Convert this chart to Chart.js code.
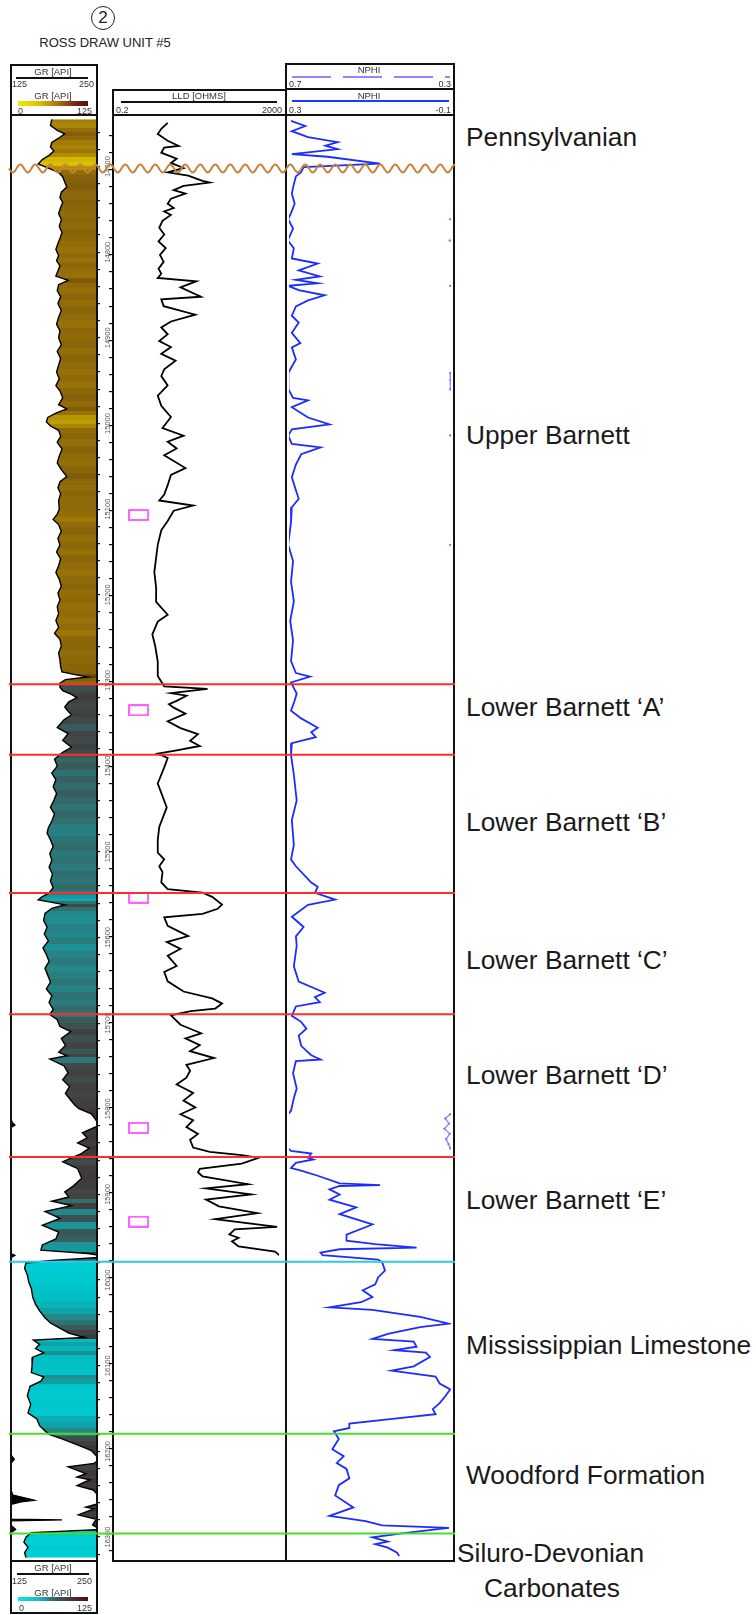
<!DOCTYPE html>
<html>
<head>
<meta charset="utf-8">
<script src="https://cdn.jsdelivr.net/npm/chart.js@4.4.0/dist/chart.umd.min.js"></script>
<style>
  body { margin: 0; background: #fff; }
  #page { position: relative; width: 756px; height: 1615px; overflow: hidden;
          font-family: "Liberation Sans", Arial, sans-serif; color: #222; }
  canvas { position: absolute; }
  .box { position: absolute; border: 2px solid #111; box-sizing: border-box; z-index: 5; }
  .rule { position: absolute; background: #111; z-index: 5; }
  .hd { position: absolute; font-size: 9px; line-height: 10px; color: #333; white-space: nowrap; z-index: 6; }
  .c { transform: translateX(-50%); }
  .r { transform: translateX(-100%); }
  .zone { position: absolute; left: 466px; font-size: 26.3px; color: #1a1a1a; white-space: nowrap;
          transform: translateY(-50%); z-index: 6; }
</style>
</head>
<body>
<div id="page">
  <!-- well title -->
  <div style="position:absolute;left:91px;top:6px;width:24px;height:24px;border:1.3px solid #222;border-radius:50%;box-sizing:border-box;font-size:17px;line-height:22px;text-align:center;">2</div>
  <div class="hd c" style="left:105px;top:36px;font-size:13px;line-height:14px;color:#222;">ROSS DRAW UNIT #5</div>

  <!-- track frames -->
  <div class="box" style="left:10px;top:64px;width:88px;height:1550px;"></div>
  <div class="rule" style="left:10px;top:114px;width:88px;height:2px;"></div>
  <div class="rule" style="left:10px;top:1560px;width:88px;height:2px;"></div>
  <div class="box" style="left:112px;top:89px;width:175px;height:1473px;"></div>
  <div class="rule" style="left:112px;top:114px;width:175px;height:2px;"></div>
  <div class="box" style="left:285px;top:63px;width:170px;height:1499px;"></div>
  <div class="rule" style="left:285px;top:88px;width:170px;height:2px;"></div>
  <div class="rule" style="left:285px;top:114px;width:170px;height:2px;"></div>

  <!-- GR header -->
  <div class="hd c" style="left:53px;top:67px;font-size:9.5px;">GR [API]</div>
  <div class="rule" style="left:16px;top:77px;width:72px;height:1.5px;"></div>
  <div class="hd" style="left:12px;top:79px;">125</div>
  <div class="hd r" style="left:94px;top:79px;">250</div>
  <div class="hd c" style="left:53px;top:91px;font-size:9.5px;">GR [API]</div>
  <div style="position:absolute;left:18px;top:101px;width:70px;height:5px;z-index:6;background:linear-gradient(90deg,#f4ea00 0%,#e0c000 30%,#b07a10 55%,#7a2a10 80%,#5a0a0a 100%);"></div>
  <div class="hd" style="left:18px;top:106px;">0</div>
  <div class="hd r" style="left:92px;top:106px;">125</div>

  <!-- LLD header -->
  <div class="hd c" style="left:199px;top:91px;font-size:9.5px;">LLD [OHMS]</div>
  <div class="rule" style="left:121px;top:101px;width:156px;height:1.5px;"></div>
  <div class="hd" style="left:116px;top:105px;">0.2</div>
  <div class="hd r" style="left:282px;top:105px;">2000</div>

  <!-- NPHI header -->
  <div class="hd c" style="left:369px;top:65px;font-size:9.5px;">NPHI</div>
  <div style="position:absolute;left:292px;top:76px;width:158px;height:1.5px;z-index:6;background:repeating-linear-gradient(90deg,#8a8aff 0 39px,transparent 39px 51px);"></div>
  <div class="hd" style="left:289px;top:79px;">0.7</div>
  <div class="hd r" style="left:451px;top:79px;">0.3</div>
  <div class="hd c" style="left:369px;top:91px;font-size:9.5px;">NPHI</div>
  <div style="position:absolute;left:292px;top:100px;width:157px;height:2px;z-index:6;background:#2238ff;"></div>
  <div class="hd" style="left:289px;top:105px;">0.3</div>
  <div class="hd r" style="left:451px;top:105px;">-0.1</div>

  <!-- GR footer -->
  <div class="hd c" style="left:53px;top:1563px;font-size:9.5px;">GR [API]</div>
  <div class="rule" style="left:17px;top:1573px;width:72px;height:1.5px;"></div>
  <div class="hd" style="left:12px;top:1576px;">125</div>
  <div class="hd r" style="left:92px;top:1576px;">250</div>
  <div class="hd c" style="left:53px;top:1588px;font-size:9.5px;">GR [API]</div>
  <div style="position:absolute;left:18px;top:1597px;width:70px;height:4px;z-index:6;background:linear-gradient(90deg,#00e8f0 0%,#20b8c0 30%,#405858 55%,#4a3030 80%,#5a0a0a 100%);"></div>
  <div class="hd" style="left:19px;top:1603px;">0</div>
  <div class="hd r" style="left:92px;top:1603px;">125</div>

  <canvas id="grTrack" width="113" height="1445" style="left:0;top:116px;z-index:1;"></canvas>
  <canvas id="lldTrack" width="177" height="1445" style="left:108px;top:116px;z-index:1;"></canvas>
  <canvas id="nphiTrack" width="170" height="1445" style="left:285px;top:116px;z-index:1;"></canvas>
  <canvas id="tops" width="460" height="1445" style="left:0;top:116px;z-index:7;pointer-events:none;"></canvas>

  <!-- formation names -->
  <div class="zone" style="top:137px;">Pennsylvanian</div>
  <div class="zone" style="top:435px;">Upper Barnett</div>
  <div class="zone" style="top:707px;">Lower Barnett ‘A’</div>
  <div class="zone" style="top:822px;">Lower Barnett ‘B’</div>
  <div class="zone" style="top:960px;">Lower Barnett ‘C’</div>
  <div class="zone" style="top:1075px;">Lower Barnett ‘D’</div>
  <div class="zone" style="top:1200px;">Lower Barnett ‘E’</div>
  <div class="zone" style="top:1345px;">Mississippian Limestone</div>
  <div class="zone" style="top:1475px;">Woodford Formation</div>
  <div class="zone" style="top:1553px;left:457px;">Siluro-Devonian</div>
  <div class="zone" style="top:1588px;left:552px;transform:translate(-50%,-50%);">Carbonates</div>
</div>

<script>
// depth window of the log, ft
const depthTop = 14644;
const depthBase = 16325;

// gamma ray [depth ft, API]
const grLog = [
  [14645,60],[14652,58],[14658,68],[14662,79],[14667,70],[14672,60],[14677,58],[14682,63],[14687,56],[14692,46],
  [14697,40],[14702,55],[14707,70],[14712,76],[14718,79],[14724,82],[14730,74],[14736,72],[14742,76],[14748,73],
  [14755,70],[14762,74],[14770,71],[14777,75],[14784,72],[14790,69],[14797,66],[14804,70],[14810,67],[14816,72],
  [14822,69],[14828,66],[14833,84],[14838,70],[14845,68],[14852,73],[14860,69],[14868,74],[14876,70],[14884,67],
  [14892,72],[14900,70],[14908,74],[14916,68],[14924,73],[14932,70],[14940,67],[14948,71],[14956,66],[14962,72],
  [14970,76],[14978,70],[14983,82],[14988,66],[14993,54],[14998,52],[15003,58],[15008,70],[15015,73],[15022,68],
  [15030,75],[15038,71],[15046,68],[15054,74],[15062,82],[15068,72],[15075,69],[15082,73],[15090,70],[15100,71],
  [15106,68],[15112,62],[15118,70],[15126,74],[15134,69],[15142,72],[15150,67],[15158,73],[15166,70],[15174,66],
  [15182,71],[15190,74],[15198,69],[15206,72],[15214,68],[15222,70],[15230,66],[15238,70],[15245,64],[15252,72],
  [15260,74],[15268,70],[15276,72],[15284,73],[15290,75],[15294,100],[15296,113],[15299,80],[15303,72],
  [15308,72],[15312,76],[15316,88],[15320,97],[15325,85],[15331,79],[15336,84],[15340,89],[15346,78],[15355,68],
  [15362,84],[15370,76],[15378,89],[15384,76],[15388,70],
  [15392,64],[15400,68],[15408,60],[15416,66],[15424,62],[15432,67],[15440,63],[15448,58],[15456,64],[15464,60],
  [15472,55],[15478,53],[15486,58],[15494,62],[15502,57],[15510,60],[15518,56],[15526,61],[15534,58],[15542,62],
  [15548,56],[15553,45],[15556,40],[15559,60],[15562,79],[15566,60],[15572,50],[15580,48],[15588,53],[15596,49],
  [15604,55],[15612,47],[15620,52],[15628,56],[15636,50],[15644,54],[15652,58],[15660,52],[15668,60],[15676,56],
  [15684,62],[15690,57],[15696,68],[15704,72],[15710,88],[15718,74],[15726,80],[15734,70],[15738,82],[15742,57],
  [15750,78],[15758,84],[15766,76],[15774,86],[15782,80],[15790,88],[15796,94],[15800,100],[15806,118],[15812,124],
  [15816,127],[15819,131],[15822,122],[15828,105],[15834,112],[15840,98],[15846,115],[15852,104],
  [15857,90],[15862,76],[15870,98],[15881,104],[15890,92],[15897,79],[15903,85],[15908,60],[15913,89],[15920,50],
  [15928,72],[15936,46],[15944,70],[15952,66],[15959,46],[15965,44],[15969,113],[15971,131],[15974,124],[15977,60],
  [15980,22],[15986,20],[15994,24],[16002,26],[16010,30],[16020,32],[16028,36],[16036,42],[16044,50],[16050,58],
  [16055,69],[16062,85],[16067,108],[16070,33],[16075,42],[16080,36],[16085,48],[16090,32],[16100,31],[16108,30],
  [16113,48],[16118,44],[16124,28],[16135,24],[16145,29],[16155,25],[16162,38],[16170,42],[16176,50],
  [16180,56],[16185,74],[16190,90],[16195,106],[16199,118],[16204,124],[16209,130],[16214,122],[16218,84],[16226,110],[16230,97],
  [16233,116],[16240,97],[16245,121],[16251,128],[16255,150],[16257,160],[16259,140],[16262,124],[16265,110],[16267,122],
  [16274,99],[16279,124],[16280,200],[16281,124],[16286,120],[16291,132],
  [16295,30],[16300,22],[16306,19],[16312,25],[16318,20],[16324,22]
];

// deep laterolog resistivity [depth ft, ohm-m]
const lldLog = [
  [14645,4.0],[14652,2.8],[14658,2.3],[14666,4.0],[14672,7.4],[14674,3.3],[14680,2.8],[14687,6.6],[14692,4.8],[14698,9.7],
  [14703,4.0],[14707,12.6],[14713,28],[14715,42],[14719,9.7],[14724,5.6],[14728,10.8],[14734,4.8],[14740,4.0],[14745,5.6],
  [14749,3.3],[14753,4.8],[14760,3.0],[14768,2.5],[14776,3.3],[14784,2.4],[14792,3.6],[14800,2.6],[14808,3.2],[14816,2.4],
  [14822,2.8],[14827,2.3],[14831,19.7],[14838,8.2],[14849,25.6],[14852,2.8],[14860,3.2],[14870,18.7],[14878,4.8],[14885,2.8],
  [14893,4.0],[14901,2.5],[14908,4.8],[14916,2.8],[14924,6.2],[14934,3.3],[14942,2.8],[14953,4.0],[14965,2.3],[14977,2.8],
  [14990,4.8],[15003,3.0],[15012,9.7],[15019,4.0],[15027,6.6],[15035,3.3],[15050,10.8],[15058,4.8],[15070,4.0],[15081,3.3],
  [15088,2.5],[15094,16.6],[15100,5.6],[15112,4.0],[15123,2.8],[15140,2.3],[15155,2.1],[15172,1.9],[15190,2.1],[15207,2.1],
  [15222,4.0],[15230,2.3],[15245,1.7],[15259,2.0],[15277,2.3],[15294,2.3],[15306,3.3],[15309,37],[15314,4.8],[15317,11.4],
  [15323,6.6],[15327,4.3],[15331,5.6],[15338,10.8],[15347,4.0],[15355,8.2],[15362,21.7],[15370,14],[15376,24],[15381,6.6],
  [15385,2.3],[15390,4.0],[15401,3.3],[15420,2.3],[15448,3.8],[15471,2.5],[15486,2.3],[15501,2.3],[15509,3.3],[15517,2.5],
  [15524,3.0],[15536,2.8],[15544,4.0],[15548,28],[15553,48],[15562,83],[15567,65],[15573,28],[15577,3.3],[15587,4.0],
  [15599,12.6],[15606,3.8],[15614,8.2],[15622,4.0],[15634,6.6],[15641,3.3],[15652,4.0],[15664,9.7],[15672,48],[15678,83],
  [15684,57],[15687,14.5],[15692,4.8],[15703,8.2],[15713,26],[15719,10.8],[15727,24],[15734,14],[15742,53],[15750,11.4],
  [15757,14],[15765,11.4],[15773,6.6],[15783,16.6],[15792,9.7],[15800,18.7],[15808,8.2],[15815,16.6],[15823,11.4],[15831,21.7],
  [15838,14],[15847,16.6],[15852,42],[15856,250],[15859,640],[15866,250],[15872,24],[15876,21.7],[15881,28],[15890,355],
  [15895,34],[15902,420],[15908,34],[15916,70],[15924,600],[15931,57],[15940,1800],[15943,170],[15949,125],[15953,210],
  [15957,145],[15963,210],[15969,1600],[15973,2000],[15977,2400]
];

// neutron porosity [depth ft, v/v]
const nphiLog = [
  [14645,0.295],[14651,0.26],[14657,0.293],[14664,0.253],[14670,0.18],[14674,0.21],[14678,0.18],[14684,0.293],[14687,0.205],[14695,0.075],
  [14699,0.264],[14705,0.27],[14710,0.283],[14719,0.288],[14730,0.293],[14742,0.286],[14753,0.295],[14760,0.302],[14771,0.29],[14785,0.303],
  [14794,0.288],[14806,0.293],[14812,0.229],[14820,0.276],[14827,0.224],[14831,0.283],[14835,0.229],[14838,0.302],[14843,0.276],[14849,0.212],
  [14855,0.253],[14862,0.283],[14873,0.293],[14881,0.276],[14893,0.293],[14905,0.272],[14910,0.293],[14924,0.283],[14940,0.302],[14948,0.301],
  [14959,0.302],[14969,0.29],[14972,0.253],[14980,0.293],[14992,0.253],[15000,0.2],[15006,0.293],[15013,0.302],[15023,0.293],[15027,0.222],
  [15035,0.27],[15047,0.283],[15062,0.293],[15077,0.283],[15087,0.276],[15097,0.293],[15114,0.295],[15141,0.302],[15160,0.29],[15184,0.295],
  [15207,0.288],[15230,0.297],[15253,0.29],[15277,0.295],[15291,0.283],[15295,0.248],[15302,0.295],[15315,0.281],[15323,0.286],[15335,0.295],
  [15344,0.27],[15355,0.229],[15360,0.245],[15366,0.234],[15373,0.293],[15387,0.295],[15410,0.288],[15440,0.281],[15463,0.293],[15492,0.288],
  [15509,0.295],[15517,0.283],[15536,0.245],[15541,0.229],[15548,0.236],[15556,0.186],[15562,0.253],[15576,0.293],[15588,0.264],[15599,0.283],
  [15610,0.281],[15634,0.288],[15652,0.276],[15660,0.236],[15665,0.212],[15670,0.236],[15676,0.224],[15681,0.283],[15692,0.293],[15699,0.27],
  [15707,0.257],[15715,0.276],[15727,0.27],[15738,0.245],[15743,0.222],[15745,0.283],[15759,0.29],[15777,0.281],[15788,0.288],[15803,0.295],
  [15807,0.302],[15812,0.314],[15818,0.305],[15824,0.316],[15830,0.303],[15836,0.312],[15842,0.306],[15847,0.302],[15850,0.295],[15853,0.245],
  [15858,0.253],[15860,0.24],[15864,0.283],[15870,0.295],[15873,0.27],[15879,0.229],[15888,0.175],[15890,0.075],[15891,0.175],[15895,0.2],
  [15901,0.175],[15907,0.2],[15916,0.134],[15924,0.175],[15936,0.094],[15948,0.158],[15955,0.158],[15959,0.087],[15963,-0.015],[15965,0.175],
  [15969,0.222],[15972,0.217],[15977,0.08],[15980,0.07],[15990,0.063],[15998,0.08],[16006,0.087],[16013,0.118],[16021,0.094],[16027,0.122],
  [16033,0.2],[16036,0.094],[16044,-0.024],[16052,-0.095],[16056,-0.024],[16064,0.056],[16070,0.094],[16073,-0.008],[16079,-0.015],[16083,0.04],
  [16086,-0.038],[16091,-0.048],[16102,-0.008],[16107,0.047],[16114,-0.062],[16122,-0.072],[16129,-0.098],[16137,-0.086],[16145,-0.072],[16152,-0.055],
  [16158,-0.062],[16164,0.056],[16169,0.151],[16174,0.151],[16178,0.189],[16187,0.177],[16199,0.193],[16207,0.165],[16215,0.182],[16222,0.158],
  [16233,0.151],[16241,0.177],[16253,0.186],[16267,0.141],[16277,0.2],[16283,0.111],[16288,0.07],[16291,-0.095],[16297,0.016],[16302,0.094],
  [16307,0.056],[16310,0.087],[16314,0.056],[16320,0.033],[16324,0.028]
];

// core sample depths, ft
const coreDepths = [15105, 15334, 15554, 15824, 15934];

// formation surfaces, ft
const lowerBarnettTops = [15305, 15387, 15548, 15689, 15855];
const limestoneTops = [15977];
const woodfordContacts = [16177, 16293];
const unconformityDepth = 14705;

// GR shading ramps (API -> colour), above and below the Lower Barnett
const upperShades = [[0,'#f2e200'],[45,'#d6bc00'],[60,'#a27c06'],[75,'#88630a'],[125,'#55300c']];
const lowerShades = [[0,'#00e2ea'],[30,'#00c4ca'],[40,'#0aa9ad'],[50,'#24878a'],[60,'#2f7070'],[70,'#3b5656'],[80,'#424444'],[125,'#3c3030']];

Chart.defaults.font.family = '"Liberation Sans", Arial, sans-serif';

function hexRgb(h) {
  const n = parseInt(h.slice(1), 16);
  return [n >> 16, (n >> 8) & 255, n & 255];
}

function shade(stops, v) {
  if (v <= stops[0][0]) return stops[0][1];
  for (let i = 1; i < stops.length; i++) {
    if (v <= stops[i][0]) {
      const [v0, c0] = stops[i - 1];
      const [v1, c1] = stops[i];
      const t = (v - v0) / (v1 - v0);
      const a = hexRgb(c0), b = hexRgb(c1);
      return 'rgb(' + a.map((k, j) => Math.round(k + (b[j] - k) * t)).join(',') + ')';
    }
  }
  return stops[stops.length - 1][1];
}

// horizontal colour bands behind the GR curve, one per sample
function grBands(context) {
  const chart = context.chart;
  const area = chart.chartArea;
  if (!area) return '#888';
  const yScale = chart.scales.y;
  const span = area.bottom - area.top;
  const pos = d => Math.min(1, Math.max(0, (yScale.getPixelForValue(d) - area.top) / span));
  const g = chart.ctx.createLinearGradient(0, area.top, 0, area.bottom);
  grLog.forEach(([d, v], i) => {
    const from = i ? (grLog[i - 1][0] + d) / 2 : depthTop;
    const to = i < grLog.length - 1 ? (d + grLog[i + 1][0]) / 2 : depthBase;
    const c = shade(d < lowerBarnettTops[0] ? upperShades : lowerShades, v);
    g.addColorStop(pos(from), c);
    g.addColorStop(pos(to), c);
  });
  return g;
}

const depthTicks = {
  stepSize: 20,
  includeBounds: false,
  autoSkip: false
};

function depthScale(extra) {
  return Object.assign({ type: 'linear', reverse: true, min: depthTop, max: depthBase, display: false }, extra);
}

const baseOptions = {
  indexAxis: 'y',
  responsive: false,
  animation: false,
  events: [],
  plugins: { legend: { display: false }, tooltip: { enabled: false } }
};

// ---- GR track, with depth ticks and labels on its right side
new Chart(document.getElementById('grTrack'), {
  type: 'line',
  data: {
    datasets: [
      {
        data: grLog.map(([d, v]) => ({ x: v, y: d })),
        borderColor: '#000', borderWidth: 1.4, pointRadius: 0,
        fill: { target: { value: 125 } }, backgroundColor: grBands
      },
      {
        // backup trace, wraps values above 125 API
        data: grLog.map(([d, v]) => ({ x: Math.max(v - 125, 0), y: d })),
        borderColor: '#000', borderWidth: 1.2, pointRadius: 0,
        fill: { target: { value: 0 } }, backgroundColor: '#000'
      }
    ]
  },
  options: Object.assign({}, baseOptions, {
    layout: { padding: { left: 11 } },
    scales: {
      x: { type: 'linear', min: 0, max: 125, display: false },
      y: depthScale({
        display: true,
        position: 'right',
        border: { display: false },
        grid: { drawOnChartArea: false, tickLength: 4, color: '#111', lineWidth: 1.2 },
        ticks: Object.assign({}, depthTicks, {
          minRotation: 90, maxRotation: 90, crossAlign: 'center', padding: -2,
          color: '#555', font: { size: 7.5 },
          callback: v => (v % 100 === 0 ? String(v) : '')
        }),
        afterFit: s => { s.width = 17; }
      })
    }
  })
});

// core sample marker
const coreMark = document.createElement('canvas');
coreMark.width = 21;
coreMark.height = 12;
const cm = coreMark.getContext('2d');
cm.strokeStyle = '#ff3cff';
cm.lineWidth = 1.6;
cm.strokeRect(1, 1, 19, 10);
const coreMarkX = 0.79;

// ---- LLD track
new Chart(document.getElementById('lldTrack'), {
  type: 'line',
  data: {
    datasets: [
      {
        data: lldLog.map(([d, v]) => ({ x: v, y: d })),
        borderColor: '#000', borderWidth: 1.8, pointRadius: 0
      },
      {
        data: coreDepths.map(d => ({ x: coreMarkX, y: d })),
        showLine: false, pointStyle: coreMark, pointRadius: 6, borderWidth: 0
      }
    ]
  },
  options: Object.assign({}, baseOptions, {
    layout: { padding: { right: 1 } },
    scales: {
      x: { type: 'logarithmic', min: 0.2, max: 2000, display: false },
      y: depthScale({
        display: true,
        position: 'left',
        border: { display: false },
        grid: { drawOnChartArea: false, tickLength: 5, color: '#111', lineWidth: 1.2 },
        ticks: Object.assign({}, depthTicks, { display: false }),
        afterFit: s => { s.width = 5; }
      })
    }
  })
});

// ---- NPHI track
new Chart(document.getElementById('nphiTrack'), {
  type: 'line',
  data: {
    datasets: [
      {
        data: nphiLog.map(([d, v]) => ({ x: v, y: d })),
        borderColor: '#1c2cff', borderWidth: 1.8, pointRadius: 0
      },
      {
        // backup trace on the 0.7 - 0.3 scale
        data: nphiLog.map(([d, v]) => ({ x: v > 0.3 ? v - 0.4 : null, y: d })),
        borderColor: '#9090ff', borderWidth: 1.4,
        pointRadius: 1.2, pointBackgroundColor: '#7a7aff', pointBorderWidth: 0
      }
    ]
  },
  options: Object.assign({}, baseOptions, {
    layout: { padding: { right: 1 } },
    scales: {
      x: { type: 'linear', min: -0.1, max: 0.3, reverse: true, display: false },
      y: depthScale()
    }
  })
});

// ---- formation surfaces across all tracks
const unconformityWave = {
  id: 'unconformityWave',
  afterDatasetsDraw(chart) {
    const { ctx, chartArea: a, scales: { y } } = chart;
    const base = y.getPixelForValue(unconformityDepth);
    ctx.save();
    ctx.strokeStyle = '#c8823a';
    ctx.lineWidth = 2;
    ctx.beginPath();
    for (let px = a.left; px <= a.right; px += 1) {
      const py = base + 4 * Math.sin((px - a.left) / 15 * 2 * Math.PI);
      if (px === a.left) ctx.moveTo(px, py); else ctx.lineTo(px, py);
    }
    ctx.stroke();
    ctx.restore();
  }
};

const surface = (d, color) => ({
  data: [{ x: 0, y: d }, { x: 1, y: d }],
  borderColor: color, borderWidth: 2, pointRadius: 0
});

new Chart(document.getElementById('tops'), {
  type: 'line',
  data: {
    datasets: [
      ...lowerBarnettTops.map(d => surface(d, '#ff2e2e')),
      ...limestoneTops.map(d => surface(d, '#2ec8e2')),
      ...woodfordContacts.map(d => surface(d, '#4ade2a'))
    ]
  },
  options: {
    responsive: false,
    animation: false,
    events: [],
    layout: { padding: { left: 9, right: 5 } },
    plugins: { legend: { display: false }, tooltip: { enabled: false } },
    scales: {
      x: { type: 'linear', min: 0, max: 1, display: false },
      y: depthScale()
    }
  },
  plugins: [unconformityWave]
});
</script>
</body>
</html>
